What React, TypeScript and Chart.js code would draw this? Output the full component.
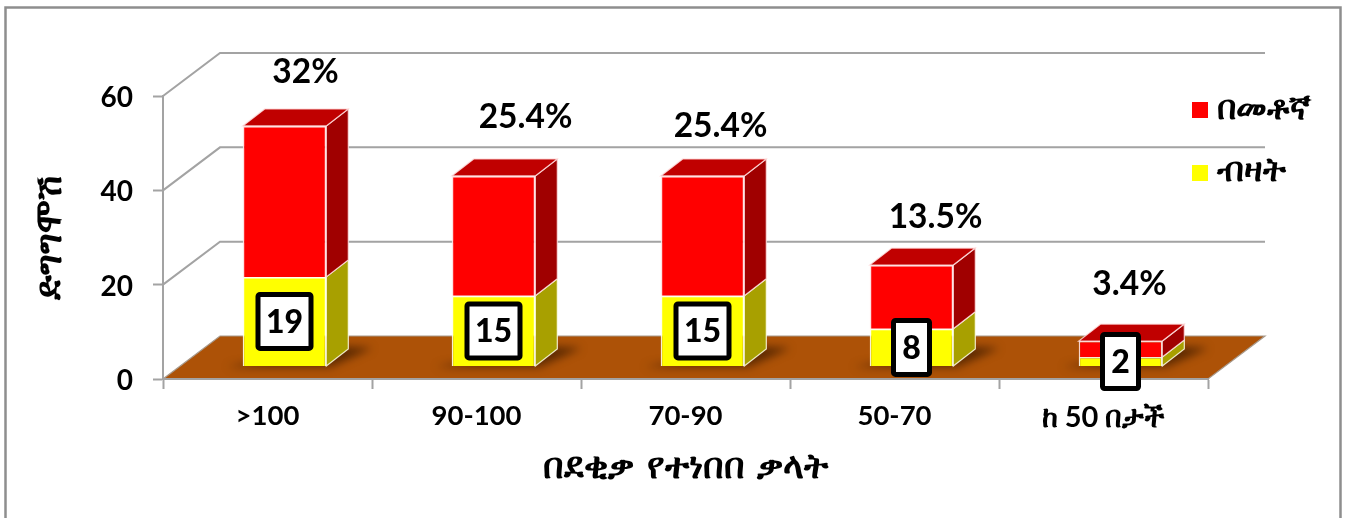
import React, { useEffect, useRef } from "react";
import { Chart, registerables } from "chart.js";

Chart.register(...registerables);

const categories = [">100", "90-100", "70-90", "50-70", "ከ 50 በታች"];
const countValues = [19, 15, 15, 8, 2];
const percentValues = [32, 25.4, 25.4, 13.5, 3.4];
const yTicks = [0, 20, 40, 60];
const seriesNames = { count: "ብዛት", percent: "በመቶኛ" };
const xTitle = "በደቂቃ የተነበበ ቃላት";
const yTitle = "ድግግሞሽ";

const FONT = 'Lato, "Noto Sans", "DejaVu Sans", sans-serif';
const ETH_FONT = '"DejaVu Sans", "Noto Sans", sans-serif';
const GRAY = "#a3a3a3";
const WALL = { dx: 57, dy: -43 };
const BAR_SHIFT = { dx: 17, dy: -12.5 };
const BAR_DEPTH = { dx: 22, dy: -17 };
const percentLabelNudge = [
  [21, -53.5],
  [32, -58.5],
  [18, -49.5],
  [24, -47.5],
  [9, -56.5],
];

function poly(ctx: CanvasRenderingContext2D, pts: number[][], fill: string, stroke?: string) {
  ctx.beginPath();
  pts.forEach((p, i) => (i ? ctx.lineTo(p[0], p[1]) : ctx.moveTo(p[0], p[1])));
  ctx.closePath();
  ctx.fillStyle = fill;
  ctx.fill();
  if (stroke) {
    ctx.strokeStyle = stroke;
    ctx.lineWidth = 1.2;
    ctx.stroke();
  }
}

function swatch(color: string) {
  const c = document.createElement("canvas");
  c.width = 16;
  c.height = 16;
  const g = c.getContext("2d")!;
  g.fillStyle = color;
  g.fillRect(0, 0, 16, 16);
  return c;
}

const scene3d = {
  id: "scene3d",
  afterLayout(chart: any) {
    const lg = chart.legend;
    const pad = lg.options.labels.padding;
    lg.left = 1200 - pad;
    lg.right = 1347;
    lg.top = 93 - pad;
    lg.bottom = 300;
    lg.width = lg.right - lg.left;
    lg.height = lg.bottom - lg.top;
  },
  beforeDraw(chart: any) {
    const { ctx, chartArea: a, scales } = chart;
    ctx.save();
    ctx.strokeStyle = "#8e8e8e";
    ctx.lineWidth = 2.5;
    ctx.strokeRect(5.5, 7.5, 1335, 600);
    ctx.strokeStyle = GRAY;
    ctx.lineWidth = 2;
    scales.y.ticks.forEach((t: any) => {
      if (t.value === 0) return;
      const y = scales.y.getPixelForValue(t.value);
      ctx.beginPath();
      ctx.moveTo(a.left, y);
      ctx.lineTo(a.left + WALL.dx, y + WALL.dy);
      ctx.lineTo(a.right + WALL.dx, y + WALL.dy);
      ctx.stroke();
    });
    const y0 = scales.y.getPixelForValue(0);
    const floor = [
      [a.left, y0],
      [a.right, y0],
      [a.right + WALL.dx, y0 + WALL.dy],
      [a.left + WALL.dx, y0 + WALL.dy],
    ];
    poly(ctx, floor, "#ad5207", "#a89a8c");
    ctx.restore();
  },
  beforeDatasetsDraw(chart: any) {
    const { ctx, chartArea: a, scales } = chart;
    const y0 = scales.y.getPixelForValue(0);
    const lower = chart.getDatasetMeta(0).data;
    const upper = chart.getDatasetMeta(1).data;
    ctx.save();
    ctx.beginPath();
    ctx.moveTo(a.left, y0);
    ctx.lineTo(a.right, y0);
    ctx.lineTo(a.right + WALL.dx, y0 + WALL.dy);
    ctx.lineTo(a.left + WALL.dx, y0 + WALL.dy);
    ctx.closePath();
    ctx.clip();
    ctx.filter = "blur(4px)";
    lower.forEach((el: any) => {
      const l = el.x - el.width / 2 + BAR_SHIFT.dx;
      const r = el.x + el.width / 2 + BAR_SHIFT.dx;
      const b = el.base + BAR_SHIFT.dy;
      poly(
        ctx,
        [
          [l - 16, b + 1],
          [r + 4, b + 1],
          [r + 46, b - 18],
          [r + 10, b - 20],
        ],
        "rgba(60,25,0,0.7)"
      );
    });
    ctx.restore();

    ctx.save();
    const faces = (el: any, side: string, edge: string) => {
      const r = el.x + el.width / 2 + BAR_SHIFT.dx;
      const t = el.y + BAR_SHIFT.dy;
      const b = el.base + BAR_SHIFT.dy;
      poly(
        ctx,
        [
          [r, t],
          [r + BAR_DEPTH.dx, t + BAR_DEPTH.dy],
          [r + BAR_DEPTH.dx, b + BAR_DEPTH.dy],
          [r, b],
        ],
        side,
        edge
      );
    };
    lower.forEach((el: any) => faces(el, "#a8a000", "rgba(255,255,235,0.85)"));
    upper.forEach((el: any) => {
      faces(el, "#a00000", "rgba(255,225,225,0.85)");
      const l = el.x - el.width / 2 + BAR_SHIFT.dx;
      const r = el.x + el.width / 2 + BAR_SHIFT.dx;
      const t = el.y + BAR_SHIFT.dy;
      poly(
        ctx,
        [
          [l, t],
          [r, t],
          [r + BAR_DEPTH.dx, t + BAR_DEPTH.dy],
          [l + BAR_DEPTH.dx, t + BAR_DEPTH.dy],
        ],
        "#c00000",
        "rgba(255,225,225,0.85)"
      );
    });
    ctx.restore();
  },
  beforeDatasetDraw(chart: any) {
    chart.ctx.save();
    chart.ctx.translate(BAR_SHIFT.dx, BAR_SHIFT.dy);
  },
  afterDatasetDraw(chart: any) {
    chart.ctx.restore();
  },
  afterDatasetsDraw(chart: any) {
    const { ctx } = chart;
    const lower = chart.getDatasetMeta(0).data;
    const upper = chart.getDatasetMeta(1).data;
    ctx.save();
    ctx.textAlign = "center";
    ctx.textBaseline = "middle";
    upper.forEach((el: any, i: number) => {
      ctx.font = `bold 33.5px ${FONT}`;
      ctx.fillStyle = "#000";
      const [nx, ny] = percentLabelNudge[i];
      ctx.fillText(
        `${percentValues[i]}%`,
        el.x + BAR_SHIFT.dx + nx,
        el.y + BAR_SHIFT.dy + ny
      );
    });
    lower.forEach((el: any, i: number) => {
      const cx = el.x + BAR_SHIFT.dx;
      const cy = (el.y + el.base) / 2 + BAR_SHIFT.dy;
      const text = String(countValues[i]);
      ctx.font = `900 32px ${FONT}`;
      const w = text.length > 1 ? 53 : 36;
      const h = 54;
      ctx.beginPath();
      ctx.roundRect(cx - w / 2, cy - h / 2, w, h, 2);
      ctx.fillStyle = "#fff";
      ctx.fill();
      ctx.lineWidth = 5;
      ctx.strokeStyle = "#000";
      ctx.stroke();
      ctx.fillStyle = "#000";
      ctx.fillText(text, cx, cy + 1);
    });
    ctx.restore();
  },
};

export default function App() {
  const ref = useRef<HTMLCanvasElement>(null);
  useEffect(() => {
    const chart = new Chart(ref.current!, {
      type: "bar",
      plugins: [scene3d],
      data: {
        labels: categories,
        datasets: [
          {
            label: seriesNames.count,
            data: countValues,
            backgroundColor: "#ffff00",
            borderColor: "rgba(255,255,235,0.9)",
            borderWidth: 1.5,
            categoryPercentage: 0.4,
            barPercentage: 1,
            clip: false,
          },
          {
            label: seriesNames.percent,
            data: percentValues,
            backgroundColor: "#ff0000",
            borderColor: "rgba(255,225,225,0.9)",
            borderWidth: 1.5,
            categoryPercentage: 0.4,
            barPercentage: 1,
            clip: false,
          },
        ],
      } as any,
      options: {
        responsive: false,
        animation: false,
        layout: { autoPadding: false, padding: { left: 0, top: 96, right: 139, bottom: 0 } },
        plugins: {
          tooltip: { enabled: false },
          legend: {
            position: "chartArea" as any,
            align: "start",
            reverse: true,
            labels: {
              usePointStyle: true,
              boxWidth: 0.01,
              boxHeight: 16,
              padding: 28.5,
              color: "#000",
              font: { family: ETH_FONT, size: 34, weight: "bold" },
              generateLabels: (c: any) =>
                Chart.defaults.plugins.legend.labels
                  .generateLabels(c)
                  .map((item: any) => ({ ...item, pointStyle: swatch(item.fillStyle) })),
            },
          },
        },
        scales: {
          x: {
            stacked: true,
            afterFit: (s: any) => {
              s.height = 139;
            },
            grid: {
              drawOnChartArea: false,
              drawTicks: true,
              tickLength: 10,
              tickWidth: 2,
              tickColor: GRAY,
            },
            border: { color: GRAY, width: 2 },
            ticks: {
              color: "#000",
              padding: 11,
              maxRotation: 0,
              font: (c: any) => ({
                family: FONT,
                size: c.index === 4 ? 29 : 27.5,
                weight: "bold",
              }),
            },
            title: {
              display: true,
              text: xTitle,
              color: "#000",
              font: { family: ETH_FONT, size: 36, weight: "bold" },
              padding: { top: 0, bottom: 28 },
            },
          },
          y: {
            stacked: true,
            min: 0,
            max: 60,
            afterFit: (s: any) => {
              s.width = 163;
            },
            afterBuildTicks: (s: any) => {
              s.ticks = yTicks.map((value) => ({ value }));
            },
            grid: {
              drawOnChartArea: false,
              drawTicks: true,
              tickLength: 10,
              tickWidth: 2,
              tickColor: GRAY,
            },
            border: { color: GRAY, width: 2 },
            ticks: {
              color: "#000",
              padding: 20,
              labelOffset: 2,
              font: { family: FONT, size: 28, weight: "bold" },
            },
            title: {
              display: true,
              text: yTitle,
              color: "#000",
              font: { family: ETH_FONT, size: 36, weight: "bold" },
              padding: { top: 30, bottom: 0 },
            },
          },
        },
      },
    });
    return () => chart.destroy();
  }, []);
  return (
    <div style={{ position: "absolute", left: 0, top: 0, width: 1347, height: 518, background: "#fff" }}>
      <canvas ref={ref} width={1347} height={518} style={{ display: "block" }} />
    </div>
  );
}
